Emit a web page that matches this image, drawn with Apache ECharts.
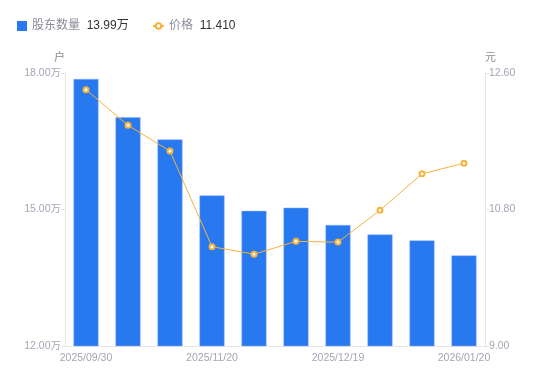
<!DOCTYPE html>
<html><head><meta charset="utf-8">
<script src="https://cdn.jsdelivr.net/npm/echarts@6/dist/echarts.min.js"></script>
<style>html,body{margin:0;padding:0;background:#fff}#c{width:550px;height:381px}</style>
</head><body><div id="c"></div>
<script>
var categories = ['2025/09/30','2025/10/20','2025/10/31','2025/11/20','2025/11/28','2025/12/10','2025/12/19','2025/12/31','2026/01/09','2026/01/20'];
var holders = [17.87,17.03,16.54,15.31,14.97,15.04,14.66,14.45,14.32,13.99];
var prices = [12.38,11.91,11.57,10.31,10.21,10.38,10.37,10.79,11.27,11.41];
var leftTicks = [12, 15, 18];
var rightTicks = [9.0, 10.8, 12.6];
var legendValues = {'股东数量':'13.99万','价格':'11.410'};

var chart = echarts.init(document.getElementById('c'), null, {renderer:'canvas'});
var font = '"Liberation Sans","Noto Sans CJK SC",sans-serif';
var legendText = {rich:{n:{color:'#8a8e99',fontSize:12,fontFamily:font},v:{color:'#333',fontSize:12,fontFamily:font}}};
var legendFmt = function(n){return '{n|'+n+'}  {v|'+legendValues[n]+'}';};
chart.setOption({
  animation:false,
  textStyle:{fontFamily:font},
  legend:[{
    left:12, top:15, itemWidth:10, itemHeight:10,
    data:[{name:'股东数量', icon:'rect', itemStyle:{borderWidth:0}}],
    formatter:legendFmt, textStyle:legendText
  },{
    left:147, top:15, itemWidth:11, itemHeight:7,
    data:[{name:'价格'}],
    itemStyle:{borderWidth:2},
    formatter:legendFmt, textStyle:legendText
  }],
  grid:{left:65,right:65,top:73,bottom:35},
  xAxis:{
    type:'category', data:categories,
    axisLine:{lineStyle:{color:'#e6e6e6'}},
    axisTick:{show:false},
    axisLabel:{color:'#a3a6b4',fontSize:10.5,interval:2,showMinLabel:true,showMaxLabel:true,margin:7,
      formatter:function(v,i){return (i%3===0)?v:'';}}
  },
  yAxis:[{
    type:'value', name:'户', min:12, max:18, interval:3,
    nameTextStyle:{color:'#8a8e99',fontSize:11,align:'right'},
    nameGap:10,
    axisLine:{show:true,lineStyle:{color:'#e6e6e6'}},
    axisTick:{show:true,length:4,lineStyle:{color:'#e6e6e6'}},
    splitLine:{show:false},
    axisLabel:{color:'#a3a6b4',fontSize:10.5,margin:4,formatter:function(v){return v.toFixed(2)+'万';}}
  },{
    type:'value', name:'元', min:9, max:12.6, interval:1.8,
    nameTextStyle:{color:'#8a8e99',fontSize:11,align:'left'},
    nameGap:10,
    axisLine:{show:true,lineStyle:{color:'#e6e6e6'}},
    axisTick:{show:true,length:4,lineStyle:{color:'#e6e6e6'}},
    splitLine:{show:false},
    axisLabel:{color:'#a3a6b4',fontSize:10.5,margin:4,formatter:function(v){return v.toFixed(2);}}
  }],
  series:[{
    name:'股东数量', type:'bar', data:holders, barWidth:25, yAxisIndex:0,
    itemStyle:{color:'#2878f0',borderColor:'#8db5f5',borderWidth:0.5}
  },{
    name:'价格', type:'line', data:prices, yAxisIndex:1,
    symbol:'circle', symbolSize:5, showSymbol:true,
    lineStyle:{color:'#f7b23b',width:1},
    itemStyle:{color:'#fff',borderColor:'#f7b23b',borderWidth:2}
  }]
});
</script></body></html>
